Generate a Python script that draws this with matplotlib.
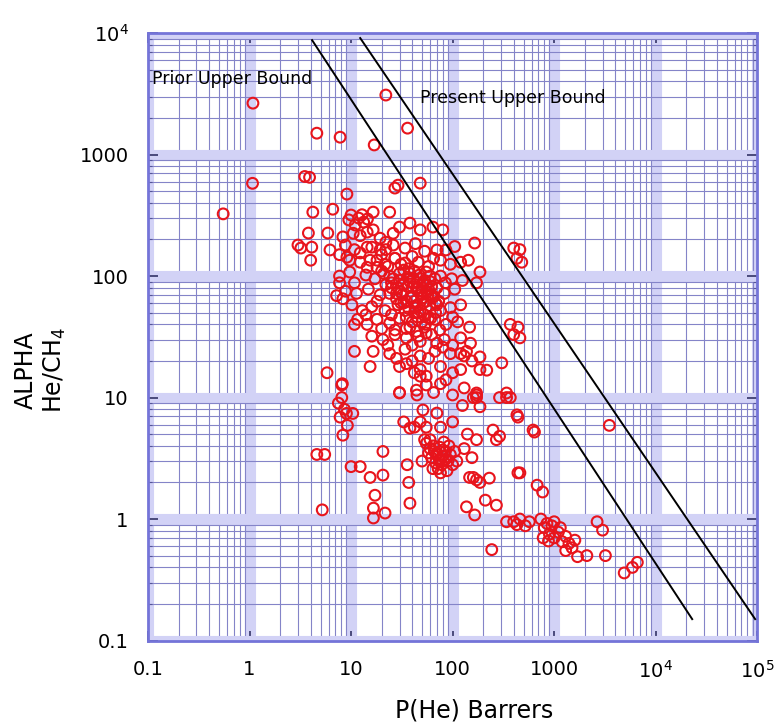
import matplotlib
matplotlib.use("Agg")
import matplotlib.pyplot as plt
import matplotlib.ticker as mticker
import numpy as np

# He permeability (Barrers) and He/CH4 selectivity
perm = [
    # high outliers
    1.08, 1.07, 0.55, 4.6, 7.8, 16.9, 22, 36, 3.5, 3.9, 9.1, 29, 27, 48,
    # upper-left group
    4.2, 6.6, 3.8, 3.2, 4.1, 4.0, 5.9, 6.2, 8.3, 9.1, 3.0, 7.7,
    # main band
    10, 11.9, 11, 13.3, 16.5, 24, 9.5, 12.8, 14.5,
    12.3, 14.4, 16.5, 19.3, 30, 38, 48, 64, 80, 26, 10.5,
    8.8, 10.8, 16, 19.3, 26, 34, 43, 53, 70, 86, 105, 14.4, 22, 12.3,
    9.7, 12.3, 15.4, 21.6, 27, 34, 46, 58, 76, 95, 120, 18, 40, 65,
    7.7, 9.7, 14, 17.2, 24, 30, 38, 48, 60, 76, 98, 125, 14.4, 20, 33, 55, 85,
    7.2, 8.8, 11.3, 14.8, 19.3, 25, 31, 40, 50, 62, 83, 105, 10.8, 7.7, 22, 36, 45, 70, 28, 55,
    8.3, 10.2, 12.9, 16, 21.6, 29, 37, 46, 60, 76, 95, 120, 18, 25, 33, 42, 52, 68, 14,
    11.6, 14.4, 18, 24, 30, 40, 53, 67, 86, 112, 147, 10.8, 20, 35, 45, 58, 27, 75, 100,
    16, 20.6, 27, 35, 48, 62, 83, 120, 150, 23, 40, 55, 70, 100,
    10.8, 16.5, 24, 34, 48, 67, 95, 130, 40, 58, 80, 28,
    15.4, 30, 48, 76, 120, 186, 35, 55, 42, 86, 137, 155, 100,
    8.2, 5.8, 30, 44, 55, 76, 130, 172, 100, 48, 65,
    # lower-left
    8.1, 8.1, 9, 7.8, 10.4, 9.2, 8.3, 4.6, 5.5, 5.2, 10, 12.3, 15.4, 20.6, 20.6,
    17.2, 16.6, 16.6, 21.6, 7.5, 8.6,
    # middle-low
    30, 44.6, 51, 70, 48, 33, 38, 55, 76, 100, 42, 53, 35.7, 37, 38, 125, 172, 186, 160,
    # dense low cluster
    55, 60, 65, 70, 75, 80, 85, 90, 95, 62, 68, 72, 78, 88, 100, 58, 66, 74, 82, 92,
    105, 110, 64, 76, 60, 50,
    # right lower
    290, 370, 430, 620, 250, 270, 172, 155, 147, 172, 230, 440, 137, 165, 210, 270,
    243, 680, 770, 340, 440, 640, 290, 460, 120, 186, 217, 305, 172, 340, 160, 186, 130, 140,
    # near the bounds
    3500, 400, 460, 430, 480, 165, 143, 186, 172, 370, 440, 400, 460,
    # bottom-right tail
    400, 460, 430, 570, 740, 800, 850, 900, 950, 1000, 1100, 1200, 1300, 1400, 780,
    880, 1000, 1150, 1600, 1700, 2100, 3200, 2650, 3000, 4900, 5900, 6600, 340, 520,
    1300, 1500,
]
alpha = [
    2650, 580, 325, 1500, 1390, 1200, 3090, 1650, 660, 650, 473, 560, 530, 582,
    336, 355, 226, 170, 173, 135, 226, 164, 210, 143, 180, 150,
    318, 300, 263, 278, 336, 336, 290, 320, 295,
    215, 230, 240, 205, 253, 273, 240, 253, 240, 225, 225,
    180, 165, 173, 164, 180, 170, 185, 160, 164, 164, 175, 173, 190, 155,
    135, 130, 135, 125, 140, 128, 130, 120, 135, 125, 130, 118, 145, 140,
    100, 108, 102, 95, 100, 92, 105, 96, 90, 100, 95, 92, 118, 110, 112, 108, 88,
    69, 75, 72, 78, 70, 80, 74, 68, 76, 70, 72, 78, 88, 88, 85, 82, 88, 80, 65, 62,
    65, 58, 52, 56, 52, 58, 54, 50, 57, 52, 55, 58, 62, 48, 60, 62, 48, 60, 48,
    44, 40, 44, 41, 45, 42, 38, 44, 40, 42, 38, 40, 37, 37, 46, 45, 36, 36, 46,
    32, 30, 33, 31, 29, 33, 30, 31, 28, 27, 27, 34, 28, 27,
    24, 24, 23, 25, 22, 24, 23, 22, 20, 21, 26, 21,
    18, 18, 17, 18, 17, 17, 19, 15, 16, 14, 24, 20, 16,
    13, 16, 11, 11.5, 12.7, 13, 12, 10.5, 10.5, 15, 11,
    12.7, 10, 7.4, 6.9, 7.4, 5.9, 4.9, 3.4, 3.4, 1.19, 2.7, 2.7, 2.2, 3.6, 2.3,
    1.57, 1.23, 1.02, 1.12, 9, 8,
    10.9, 10.5, 7.9, 7.45, 6.3, 6.3, 5.6, 5.7, 5.7, 6.3, 5.7, 4.5, 2.8, 2.0, 1.35, 8.6, 10, 8.4, 10,
    4.2, 3.8, 4.0, 3.5, 3.9, 3.3, 3.6, 3.0, 3.4, 3.2, 2.9, 2.6, 2.8, 2.5, 2.8, 3.5, 3.6, 3.1, 4.3, 4.0,
    3.6, 3.0, 2.6, 2.4, 4.5, 3.0,
    10, 10, 7.2, 5.4, 5.4, 4.5, 4.5, 3.2, 2.2, 2.1, 2.17, 2.4, 1.26, 1.08, 1.43, 1.3,
    0.56, 1.9, 1.67, 10, 6.9, 5.2, 4.8, 2.4, 23, 21.6, 16.8, 19.3, 10.9, 10.9, 2.2, 2.0, 3.8, 5,
    5.9, 170, 165, 140, 130, 187, 135, 108, 88, 40, 38, 33, 31,
    0.95, 1.0, 0.9, 0.95, 1.0, 0.85, 0.92, 0.75, 0.88, 0.7, 0.78, 0.65, 0.72, 0.63, 0.7,
    0.66, 0.95, 0.85, 0.67, 0.49, 0.5, 0.5, 0.95, 0.81, 0.36, 0.40, 0.44, 0.95, 0.88,
    0.55, 0.58,
]

# extra points in the crowded core of the band
dense_p = [
    20, 23, 26, 29, 32, 35, 38, 42, 46, 50,
    55, 60, 65, 70, 18, 21, 25, 28, 31, 34,
    37, 41, 44, 49, 53, 58, 63, 68, 73, 22,
    27, 31, 36, 40, 45, 51, 57, 62, 67, 24,
    30, 33, 39, 43, 47, 52, 56, 61, 35, 42,
    48, 54, 44, 50, 38, 46, 70, 75, 80, 85,
]
dense_a = [
    150, 120, 95, 80, 70, 62, 90, 110, 75, 66,
    85, 100, 68, 58, 135, 105, 88, 72, 60, 52,
    115, 95, 80, 70, 92, 78, 66, 50, 62, 165,
    140, 125, 98, 82, 58, 60, 70, 82, 95, 72,
    105, 85, 66, 55, 102, 88, 74, 45, 46, 50,
    52, 40, 35, 42, 38, 32, 3.4, 3.0, 3.7, 3.1,
]

# upper bound lines (endpoints)
prior_p = [4.13, 22900]
prior_a = [8750, 0.15]
present_p = [12.3, 95500]
present_a = [9100, 0.15]

xticks = [0.1, 1, 10, 100, 1000, 1e4, 1e5]
xlabels = ["0.1", "1", "10", "100", "1000", "$10^4$", "$10^5$"]
yticks = [0.1, 1, 10, 100, 1000, 1e4]
ylabels = ["0.1", "1", "10", "100", "1000", "$10^4$"]

plt.rcParams['font.family'] = ['DejaVu Sans']
plt.rcParams['mathtext.fontset'] = 'dejavusans'

fig = plt.figure(figsize=(7.79, 7.24), dpi=100)
ax = fig.add_axes([0.190, 0.1153, 0.782, 0.839])

ax.set_xscale("log")
ax.set_yscale("log")
ax.set_xlim(0.1, 1e5)
ax.set_ylim(0.1, 1e4)

ax.xaxis.set_minor_locator(mticker.LogLocator(base=10, subs=np.arange(2, 10)))
ax.yaxis.set_minor_locator(mticker.LogLocator(base=10, subs=np.arange(2, 10)))
ax.grid(which="major", color="#d2d2f6", lw=8, zorder=0)
ax.grid(which="minor", color="#8484c8", lw=0.8, zorder=0)
ax.set_axisbelow(True)

ax.scatter(perm + dense_p, alpha + dense_a, s=60, facecolors="none",
           edgecolors="#e8141c", linewidths=1.5, zorder=3)
ax.plot(prior_p, prior_a, color="black", lw=1.4, zorder=4)
ax.plot(present_p, present_a, color="black", lw=1.4, zorder=4)

ax.text(0.007, 0.924, "Prior Upper Bound", transform=ax.transAxes,
        fontsize=12.5, va="center", ha="left")
ax.text(0.447, 0.893, "Present Upper Bound", transform=ax.transAxes,
        fontsize=12.5, va="center", ha="left")

ax.set_xticks(xticks)
ax.set_xticklabels(xlabels)
ax.set_yticks(yticks)
ax.set_yticklabels(ylabels)
ax.xaxis.set_minor_formatter(mticker.NullFormatter())
ax.yaxis.set_minor_formatter(mticker.NullFormatter())
ax.tick_params(which="major", direction="in", length=7, width=1.2,
               color="#333366", top=True, right=True, labelsize=14, pad=14)
ax.tick_params(which="minor", direction="in", length=3, width=0.8,
               color="#555599", top=True, right=True)

for s in ax.spines.values():
    s.set_color("#7474d8")
    s.set_linewidth(2)

ax.set_xlabel("P(He) Barrers", fontsize=17)
ax.xaxis.set_label_coords(0.535, -0.095)
ax.set_ylabel("ALPHA\nHe/CH$_4$", fontsize=17, multialignment="center")
ax.yaxis.label.set_va("center")
ax.yaxis.set_label_coords(-0.176, 0.445)

fig.savefig("out.png", dpi=100)
